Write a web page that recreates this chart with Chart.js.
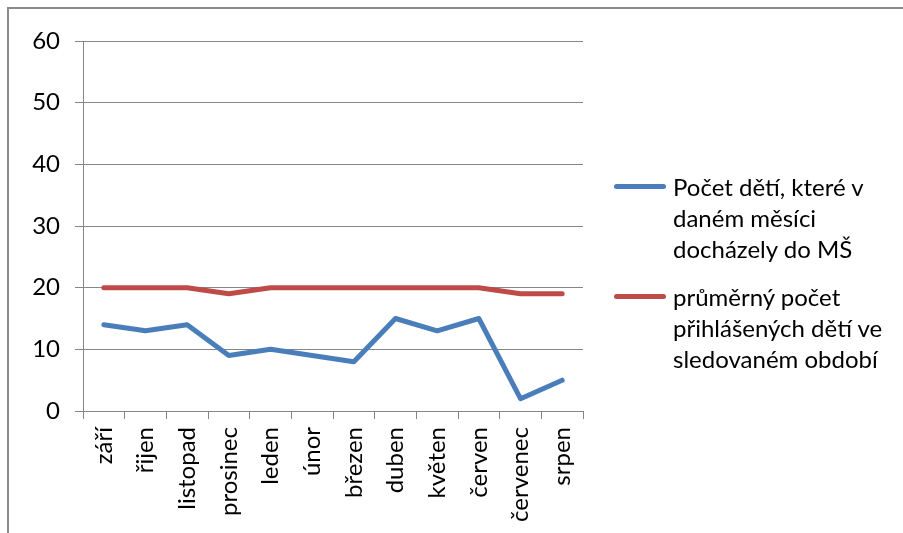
<!DOCTYPE html>
<html>
<head>
<meta charset="utf-8">
<script src="https://cdn.jsdelivr.net/npm/chart.js@4/dist/chart.umd.min.js"></script>
<style>
  html, body { margin: 0; padding: 0; background: #fff; overflow: hidden; }
  #wrap { position: relative; width: 903px; height: 533px; }
  #frame {
    position: absolute; left: 7px; top: 7px; width: 1000px; height: 700px;
    border: 2px solid #8a8a8a;
  }
  canvas { position: absolute; left: 0; top: 0; }
  #legend {
    position: absolute; left: 614px; top: 171px;
    font-family: Lato, sans-serif; font-size: 24px; color: #000; line-height: 31px;
  }
  .item { display: flex; align-items: flex-start; margin-bottom: 17px; }
  .mark { width: 52px; height: 5px; border-radius: 3px; margin-top: 13px; margin-right: 7px; flex: none; }
</style>
</head>
<body>
<div id="wrap">
  <div id="frame"></div>
  <canvas id="chart" width="903" height="533"></canvas>
  <div id="legend"></div>
</div>
<script>
'use strict';

const months = ['září', 'řijen', 'listopad', 'prosinec', 'leden', 'únor',
    'březen', 'duben', 'květen', 'červen', 'červenec', 'srpen'];
const attended = [14, 13, 14, 9, 10, 9, 8, 15, 13, 15, 2, 5];
const averageEnrolled = [20, 20, 20, 19, 20, 20, 20, 20, 20, 20, 19, 19];
const seriesNames = [
    ['Počet dětí, které v', 'daném měsíci', 'docházely do MŠ'],
    ['průměrný počet', 'přihlášených dětí ve', 'sledovaném období']
];
const seriesColors = ['#4a7ebb', '#be4b48'];
const yTicks = [0, 10, 20, 30, 40, 50, 60];

const font = { family: 'Lato', size: 24 };
const gridColor = '#868686';

const ctx = document.getElementById('chart').getContext('2d');
const chart = new Chart(ctx, {
    type: 'line',
    data: {
        labels: months,
        datasets: [
            {
                label: seriesNames[0].join(' '),
                data: attended,
                borderColor: seriesColors[0],
                backgroundColor: seriesColors[0],
                borderWidth: 5,
                pointRadius: 0,
                borderJoinStyle: 'round',
                borderCapStyle: 'round'
            },
            {
                label: seriesNames[1].join(' '),
                data: averageEnrolled,
                borderColor: seriesColors[1],
                backgroundColor: seriesColors[1],
                borderWidth: 5,
                pointRadius: 0,
                borderJoinStyle: 'round',
                borderCapStyle: 'round'
            }
        ]
    },
    options: {
        responsive: false,
        animation: false,
        layout: { padding: { left: 0, top: 41, right: 320, bottom: 0 } },
        scales: {
            x: {
                offset: true,
                grid: {
                    offset: true,
                    drawOnChartArea: false,
                    drawTicks: true,
                    tickLength: 8,
                    color: gridColor
                },
                border: { color: gridColor },
                ticks: {
                    autoSkip: false,
                    minRotation: 90,
                    maxRotation: 90,
                    padding: 8,
                    color: '#000',
                    font: font
                },
                afterFit: (s) => { s.height = 122; }
            },
            y: {
                min: yTicks[0],
                max: yTicks[yTicks.length - 1],
                afterBuildTicks: (s) => { s.ticks = yTicks.map(v => ({ value: v })); },
                grid: { color: gridColor, tickLength: 8 },
                border: { color: gridColor },
                ticks: { padding: 15, color: '#000', font: font },
                afterFit: (s) => { s.width = 83; }
            }
        },
        plugins: {
            legend: { display: false },
            tooltip: { enabled: false }
        }
    }
});

// legend as html so the names can wrap like in the original
const legend = document.getElementById('legend');
seriesNames.forEach((lines, i) => {
    const item = document.createElement('div');
    item.className = 'item';
    item.innerHTML = `<span class="mark" style="background:${seriesColors[i]}"></span>` +
        `<span>${lines.join('<br>')}</span>`;
    legend.appendChild(item);
});
</script>
</body>
</html>
